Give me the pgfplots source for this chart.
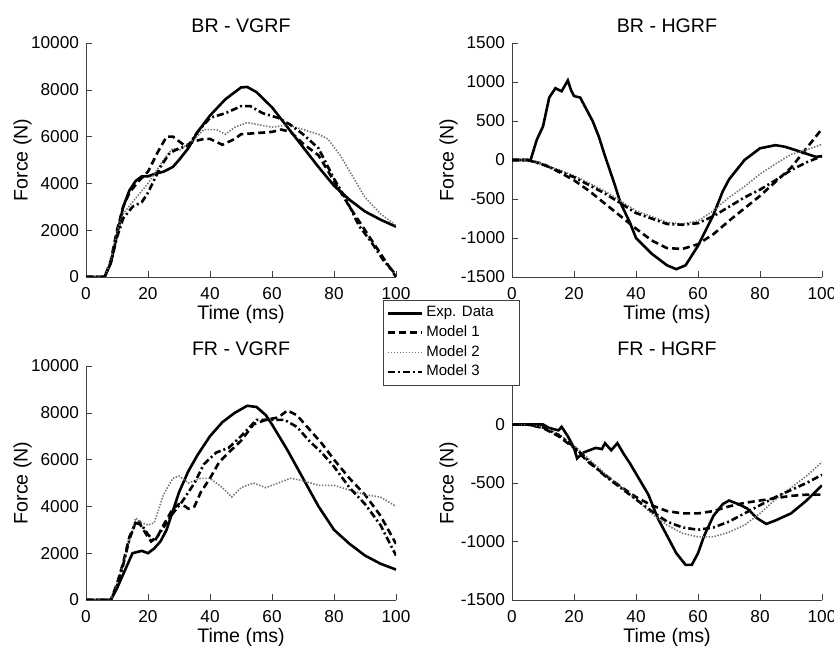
\documentclass[border=0pt]{standalone}
\usepackage{fontspec}
\setmainfont{Liberation Sans}
\usepackage{pgfplots}
\pgfplotsset{compat=1.18}

\pgfplotsset{
  grf/.style={
    scale only axis, width=155pt, height=117pt, anchor=south west,
    axis lines*=left, axis line style={black!75,-}, tick align=inside,
    major tick length=3pt, tick style={black!75},
    xmin=0, xmax=100, xtick={0,20,...,100},
    xlabel={Time (ms)}, ylabel={Force (N)},
    scaled y ticks=false,
    /pgf/number format/assume math mode=true,
    /pgf/number format/1000 sep={},
    tick label style={font=\fontsize{8.6}{10}\selectfont},
    xticklabel style={yshift=-1.5pt},
    title style={font=\fontsize{9.8}{11}\selectfont, at={(axis description cs:0.5,1)}, anchor=center, yshift=2.5pt},
    xlabel style={font=\fontsize{9.8}{11}\selectfont, yshift=4pt},
    ylabel style={font=\fontsize{9.8}{11}\selectfont, at={(axis description cs:-0.205,0.5)}, anchor=center},
    clip=true,
  },
  expd/.style={black, line width=1.3pt},
  mod1/.style={black, line width=1.3pt, dash pattern=on 3.5pt off 2pt},
  mod2/.style={black!55, line width=0.8pt, dash pattern=on 0.7pt off 0.8pt},
  mod3/.style={black, line width=1.3pt, dash pattern=on 3.5pt off 1.5pt on 1pt off 1.5pt},
}

\begin{document}
\begin{tikzpicture}
\path[use as bounding box] (0,0) rectangle (417pt,323pt);

% BR - VGRF
\begin{axis}[grf, at={(43pt,184.5pt)}, title={BR - VGRF},
  ymin=0, ymax=10000, ytick={0,2000,...,10000}]
\addplot[expd] coordinates {(0,0)(6,0)(8,600)(10,1800)(12,3000)(14,3700)(16,4100)(18,4300)(20,4300)(22,4400)(25,4500)(28,4700)(30,5000)(33,5500)(36,6200)(40,6900)(45,7600)(50,8100)(52,8120)(55,7900)(60,7250)(65,6400)(70,5550)(75,4700)(80,3900)(85,3300)(90,2800)(95,2450)(100,2150)};
\addplot[mod1] coordinates {(0,0)(6,0)(8,700)(10,2000)(12,3000)(14,3600)(17,4100)(20,4500)(23,5300)(26,6000)(28,6000)(30,5800)(32,5600)(35,5800)(38,5900)(40,5900)(44,5650)(48,5900)(50,6100)(55,6150)(60,6200)(63,6300)(66,6200)(70,5700)(75,5200)(80,4100)(85,3000)(90,2000)(95,1000)(100,0)};
\addplot[mod2] coordinates {(0,0)(6,0)(8,700)(10,1900)(12,2700)(15,3200)(20,4000)(25,5000)(28,5500)(30,5400)(35,5900)(38,6300)(42,6300)(45,6100)(48,6400)(52,6600)(56,6500)(60,6400)(65,6500)(70,6300)(75,6100)(78,5900)(82,5200)(86,4300)(90,3400)(95,2700)(100,2200)};
\addplot[mod3] coordinates {(0,0)(6,0)(8,600)(10,1700)(12,2500)(15,3000)(18,3200)(20,3600)(24,4700)(27,5300)(30,5500)(33,5600)(36,6200)(40,6800)(45,7000)(50,7300)(53,7300)(57,7000)(62,6800)(66,6500)(70,6100)(75,5500)(80,4200)(84,3300)(88,2200)(92,1500)(96,700)(100,100)};
\end{axis}

% BR - HGRF
\begin{axis}[grf, at={(256pt,184.5pt)}, title={BR - HGRF},
  ymin=-1500, ymax=1500, ytick={-1500,-1000,...,1500}]
\addplot[expd] coordinates {(0,0)(6,0)(8,260)(10,430)(12,800)(14,920)(16,880)(18,1020)(19,900)(20,820)(22,800)(24,650)(26,500)(28,300)(30,50)(33,-300)(35,-550)(38,-800)(40,-1000)(45,-1200)(50,-1350)(53,-1400)(56,-1350)(60,-1100)(65,-700)(68,-400)(70,-250)(75,0)(80,150)(85,190)(88,170)(92,120)(95,80)(98,40)(100,50)};
\addplot[mod1] coordinates {(0,0)(5,0)(10,-50)(15,-150)(20,-260)(25,-400)(30,-560)(35,-720)(40,-880)(45,-1030)(50,-1130)(55,-1140)(60,-1080)(65,-950)(70,-780)(75,-620)(80,-460)(85,-280)(90,-100)(95,150)(100,400)};
\addplot[mod2] coordinates {(0,0)(5,0)(10,-50)(20,-200)(30,-400)(40,-650)(50,-800)(55,-820)(60,-780)(65,-650)(70,-480)(75,-340)(80,-180)(85,-50)(90,70)(95,130)(100,200)};
\addplot[mod3] coordinates {(0,0)(5,0)(10,-60)(20,-220)(30,-430)(40,-680)(50,-820)(55,-830)(60,-810)(65,-720)(70,-600)(75,-480)(80,-380)(85,-260)(90,-130)(95,-30)(100,50)};
\end{axis}

% FR - VGRF
\begin{axis}[grf, at={(43pt,23pt)}, title={FR - VGRF},
  ymin=0, ymax=10000, ytick={0,2000,...,10000}]
\addplot[expd] coordinates {(0,0)(8,0)(10,500)(12,1100)(14,1700)(15,2000)(18,2100)(20,2000)(22,2200)(24,2500)(26,3000)(28,3800)(30,4600)(33,5500)(36,6200)(40,7000)(44,7600)(48,8000)(52,8300)(55,8250)(58,7900)(60,7500)(65,6400)(70,5200)(75,4000)(80,3000)(85,2400)(90,1900)(95,1550)(100,1300)};
\addplot[mod1] coordinates {(0,0)(8,0)(10,700)(12,1600)(14,2700)(16,3300)(17,3400)(18,3100)(20,2700)(21,2500)(23,2700)(25,3200)(28,3900)(30,4100)(32,4000)(33,3900)(35,4000)(37,4600)(40,5200)(43,5900)(46,6300)(50,6800)(54,7500)(58,7700)(62,7800)(65,8100)(68,7900)(72,7300)(76,6700)(80,6000)(85,5200)(90,4500)(95,3600)(100,2400)};
\addplot[mod2] coordinates {(0,0)(8,0)(10,700)(13,2000)(16,3500)(18,3300)(20,3200)(22,3300)(25,4500)(28,5200)(30,5300)(33,5000)(37,5200)(40,5200)(44,4800)(47,4400)(50,4800)(54,5000)(58,4800)(62,5000)(66,5200)(70,5100)(75,4900)(80,4900)(85,4700)(90,4500)(95,4400)(100,4000)};
\addplot[mod3] coordinates {(0,0)(8,0)(10,600)(12,1500)(14,2600)(16,3300)(18,3200)(20,2800)(22,2500)(25,3100)(28,3700)(31,4200)(35,5000)(38,5800)(42,6300)(46,6500)(50,7000)(55,7700)(60,7700)(64,7700)(68,7400)(72,6800)(76,6300)(80,5700)(85,4800)(90,4100)(95,3200)(100,1900)};
\end{axis}

% FR - HGRF
\begin{axis}[grf, at={(256pt,23pt)}, title={FR - HGRF},
  ymin=-1500, ymax=500, ytick={-1500,-1000,...,0},
  legend cell align=left,
  legend style={at={(-0.416,1.282)}, anchor=north west, draw=black!75, fill=white,
    font=\fontsize{7.5}{9}\selectfont, inner sep=1.5pt, row sep=-0.3pt,
    nodes={inner sep=1.6pt}},
]
\addplot[expd] coordinates {(0,0)(10,0)(12,-30)(15,-50)(16,-20)(18,-100)(20,-200)(21,-290)(23,-240)(25,-220)(27,-200)(29,-210)(30,-160)(32,-220)(34,-160)(36,-250)(38,-330)(40,-420)(44,-600)(47,-800)(50,-950)(53,-1100)(56,-1200)(58,-1200)(60,-1100)(62,-950)(65,-780)(68,-680)(70,-650)(73,-680)(76,-720)(79,-800)(82,-850)(85,-820)(90,-760)(95,-650)(100,-520)};
\addplot[mod1] coordinates {(0,0)(5,0)(10,-30)(15,-100)(20,-200)(25,-330)(30,-430)(35,-530)(40,-620)(45,-690)(50,-740)(55,-760)(60,-760)(65,-740)(70,-700)(75,-670)(80,-650)(85,-630)(90,-610)(95,-600)(100,-600)};
\addplot[mod2] coordinates {(0,0)(5,0)(10,-20)(15,-80)(20,-180)(25,-300)(30,-420)(35,-530)(40,-640)(45,-760)(50,-860)(55,-930)(60,-960)(65,-960)(70,-920)(75,-860)(80,-760)(85,-640)(90,-540)(95,-440)(100,-320)};
\addplot[mod3] coordinates {(0,0)(5,0)(10,-25)(15,-90)(20,-190)(25,-320)(30,-440)(35,-540)(40,-640)(45,-740)(50,-830)(55,-880)(60,-900)(65,-880)(70,-830)(75,-760)(80,-690)(85,-620)(90,-560)(95,-500)(100,-430)};
\legend{Exp. Data\hspace*{10pt}, Model 1, Model 2, Model 3}
\end{axis}
\end{tikzpicture}
\end{document}
